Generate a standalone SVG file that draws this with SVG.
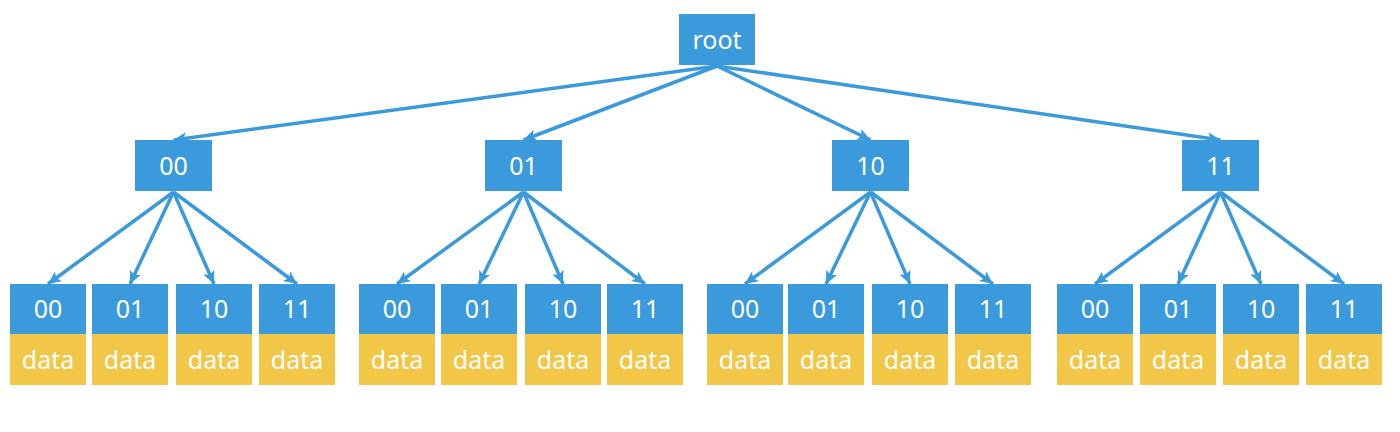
<svg xmlns="http://www.w3.org/2000/svg" width="1400" height="432" viewBox="0 0 1400 432">
<defs>
<marker id="arr" markerUnits="userSpaceOnUse" markerWidth="16" markerHeight="14" refX="13" refY="6" orient="auto">
<path d="M0,0 L13,6 L0,12 L3,6 Z" fill="#3A9ADB"/>
</marker>
<style>
.b{fill:#3A9ADB}
.y{fill:#F2C646}
.t{font-family:"Noto Sans","Open Sans",sans-serif;font-size:25px;fill:#FFFFFF;text-anchor:middle}
.c{stroke:#3A9ADB;stroke-width:3.5;fill:none;marker-end:url(#arr)}
</style>
</defs>
<rect width="1400" height="432" fill="#FFFFFF"/>
<g id="connectors">
<line class="c" x1="717" y1="66" x2="173.5" y2="140"/>
<line class="c" x1="717" y1="66" x2="523.5" y2="140"/>
<line class="c" x1="717" y1="66" x2="870.5" y2="140"/>
<line class="c" x1="717" y1="66" x2="1220.5" y2="140"/>
<line class="c" x1="173.5" y1="192" x2="48" y2="284"/>
<line class="c" x1="173.5" y1="192" x2="130" y2="284"/>
<line class="c" x1="173.5" y1="192" x2="214" y2="284"/>
<line class="c" x1="173.5" y1="192" x2="297" y2="284"/>
<line class="c" x1="523.5" y1="192" x2="397" y2="284"/>
<line class="c" x1="523.5" y1="192" x2="479" y2="284"/>
<line class="c" x1="523.5" y1="192" x2="563" y2="284"/>
<line class="c" x1="523.5" y1="192" x2="645" y2="284"/>
<line class="c" x1="870.5" y1="192" x2="745" y2="284"/>
<line class="c" x1="870.5" y1="192" x2="826" y2="284"/>
<line class="c" x1="870.5" y1="192" x2="910" y2="284"/>
<line class="c" x1="870.5" y1="192" x2="993" y2="284"/>
<line class="c" x1="1220.5" y1="192" x2="1095" y2="284"/>
<line class="c" x1="1220.5" y1="192" x2="1178" y2="284"/>
<line class="c" x1="1220.5" y1="192" x2="1261" y2="284"/>
<line class="c" x1="1220.5" y1="192" x2="1344" y2="284"/>
</g>
<g id="root"><rect class="b" x="679" y="14" width="76" height="51"/><text class="t" x="717" y="49">root</text></g>
<g id="n00"><rect class="b" x="135" y="140" width="77" height="51"/><text class="t" x="173.5" y="175">00</text></g>
<g id="n01"><rect class="b" x="485" y="140" width="77" height="51"/><text class="t" x="523.5" y="175">01</text></g>
<g id="n10"><rect class="b" x="832" y="140" width="77" height="51"/><text class="t" x="870.5" y="175">10</text></g>
<g id="n11"><rect class="b" x="1182" y="140" width="77" height="51"/><text class="t" x="1220.5" y="175">11</text></g>

<g id="n00-00"><rect class="b" x="10" y="284" width="76" height="50"/><rect class="y" x="10" y="334" width="76" height="51"/><text class="t" x="48" y="318">00</text><text class="t" x="48" y="369">data</text></g>
<g id="n00-01"><rect class="b" x="92" y="284" width="76" height="50"/><rect class="y" x="92" y="334" width="76" height="51"/><text class="t" x="130" y="318">01</text><text class="t" x="130" y="369">data</text></g>
<g id="n00-10"><rect class="b" x="176" y="284" width="76" height="50"/><rect class="y" x="176" y="334" width="76" height="51"/><text class="t" x="214" y="318">10</text><text class="t" x="214" y="369">data</text></g>
<g id="n00-11"><rect class="b" x="259" y="284" width="76" height="50"/><rect class="y" x="259" y="334" width="76" height="51"/><text class="t" x="297" y="318">11</text><text class="t" x="297" y="369">data</text></g>

<g id="n01-00"><rect class="b" x="359" y="284" width="76" height="50"/><rect class="y" x="359" y="334" width="76" height="51"/><text class="t" x="397" y="318">00</text><text class="t" x="397" y="369">data</text></g>
<g id="n01-01"><rect class="b" x="441" y="284" width="76" height="50"/><rect class="y" x="441" y="334" width="76" height="51"/><text class="t" x="479" y="318">01</text><text class="t" x="479" y="369">data</text></g>
<g id="n01-10"><rect class="b" x="525" y="284" width="76" height="50"/><rect class="y" x="525" y="334" width="76" height="51"/><text class="t" x="563" y="318">10</text><text class="t" x="563" y="369">data</text></g>
<g id="n01-11"><rect class="b" x="607" y="284" width="76" height="50"/><rect class="y" x="607" y="334" width="76" height="51"/><text class="t" x="645" y="318">11</text><text class="t" x="645" y="369">data</text></g>

<g id="n10-00"><rect class="b" x="707" y="284" width="76" height="50"/><rect class="y" x="707" y="334" width="76" height="51"/><text class="t" x="745" y="318">00</text><text class="t" x="745" y="369">data</text></g>
<g id="n10-01"><rect class="b" x="788" y="284" width="76" height="50"/><rect class="y" x="788" y="334" width="76" height="51"/><text class="t" x="826" y="318">01</text><text class="t" x="826" y="369">data</text></g>
<g id="n10-10"><rect class="b" x="872" y="284" width="76" height="50"/><rect class="y" x="872" y="334" width="76" height="51"/><text class="t" x="910" y="318">10</text><text class="t" x="910" y="369">data</text></g>
<g id="n10-11"><rect class="b" x="955" y="284" width="76" height="50"/><rect class="y" x="955" y="334" width="76" height="51"/><text class="t" x="993" y="318">11</text><text class="t" x="993" y="369">data</text></g>

<g id="n11-00"><rect class="b" x="1057" y="284" width="76" height="50"/><rect class="y" x="1057" y="334" width="76" height="51"/><text class="t" x="1095" y="318">00</text><text class="t" x="1095" y="369">data</text></g>
<g id="n11-01"><rect class="b" x="1140" y="284" width="76" height="50"/><rect class="y" x="1140" y="334" width="76" height="51"/><text class="t" x="1178" y="318">01</text><text class="t" x="1178" y="369">data</text></g>
<g id="n11-10"><rect class="b" x="1223" y="284" width="76" height="50"/><rect class="y" x="1223" y="334" width="76" height="51"/><text class="t" x="1261" y="318">10</text><text class="t" x="1261" y="369">data</text></g>
<g id="n11-11"><rect class="b" x="1306" y="284" width="76" height="50"/><rect class="y" x="1306" y="334" width="76" height="51"/><text class="t" x="1344" y="318">11</text><text class="t" x="1344" y="369">data</text></g>
</svg>
